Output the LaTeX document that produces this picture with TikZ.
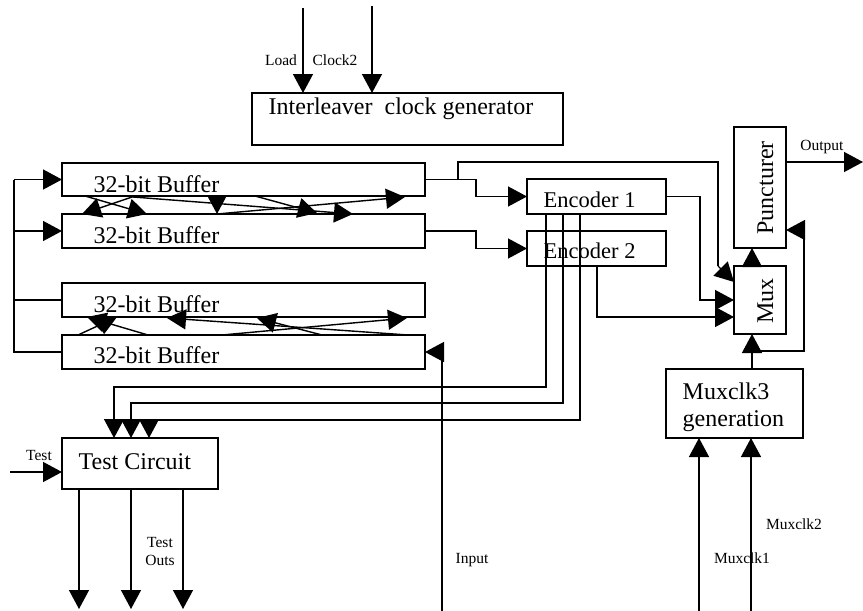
\documentclass[tikz,border=0pt]{standalone}
\usepackage{fontspec}
\setmainfont{Liberation Serif}
\usetikzlibrary{arrows.meta}
\begin{document}
\begin{tikzpicture}[x=1pt,y=-1pt,line width=1.4pt,
  arr/.style={-{Triangle[length=19pt,width=20pt]}},
  blk/.style={draw,inner sep=0pt,outer sep=0pt,anchor=north west},
  big/.style={font=\fontsize{24}{27}\selectfont,inner sep=0pt,anchor=base west},
  mid/.style={font=\fontsize{22.5}{26}\selectfont,inner sep=0pt,anchor=base west},
  lbl/.style={font=\fontsize{15.5}{18}\selectfont,inner sep=0pt,anchor=base}]
\useasboundingbox (0,0) rectangle (863,611);

% blocks
\node[blk,minimum width=311pt,minimum height=52pt] (icg) at (252,93) {};
\node[blk,minimum width=363pt,minimum height=33pt] (b1) at (62,163) {};
\node[blk,minimum width=363pt,minimum height=34pt] (b2) at (62,214) {};
\node[blk,minimum width=363pt,minimum height=34pt] (b3) at (62,283) {};
\node[blk,minimum width=363pt,minimum height=34pt] (b4) at (62,335) {};
\node[blk,minimum width=139pt,minimum height=35pt] (enc1) at (527,179) {};
\node[blk,minimum width=139pt,minimum height=35pt] (enc2) at (527,231) {};
\node[blk,minimum width=52pt,minimum height=121pt] (punc) at (734,127) {};
\node[blk,minimum width=52pt,minimum height=68pt] (mux) at (734,266) {};
\node[blk,minimum width=137pt,minimum height=69pt] (mcg) at (666,369) {};
\node[blk,minimum width=156pt,minimum height=51pt] (tc) at (62,438) {};

% block texts
\node[big] (ticg) at (268,114) {Interleaver~ clock generator};
\node[big] (tb1) at (93,192) {32-bit Buffer};
\node[big] (tb2) at (93,243) {32-bit Buffer};
\node[big] (tb3) at (93,312) {32-bit Buffer};
\node[big] (tb4) at (93,363) {32-bit Buffer};
\node[mid] (te1) at (543,207) {Encoder 1};
\node[mid] (te2) at (543,258) {Encoder 2};
\node[big,rotate=90,anchor=base] (tpunc) at (773,188) {Puncturer};
\node[big,rotate=90,anchor=base] (tmux) at (773,301) {Mux};
\node[big] (tmcg1) at (682,399) {Muxclk3};
\node[big] (tmcg2) at (682,426) {generation};
\node[big] (ttc) at (78,469) {Test Circuit};

% small labels
\node[lbl] (lload) at (281,65) {Load};
\node[lbl] (lclk) at (335,65) {Clock2};
\node[lbl] (lout) at (822,150) {Output};
\node[lbl] (ltest) at (39,460) {Test};
\node[lbl] (ltouts1) at (160,547) {Test};
\node[lbl] (ltouts2) at (160,565) {Outs};
\node[lbl] (lin) at (472,563) {Input};
\node[lbl] (lmc1) at (742,563) {Muxclk1};
\node[lbl] (lmc2) at (794,529) {Muxclk2};

% free ends and bends
\coordinate (ld) at (303,8);
\coordinate (ck) at (372,6);
\coordinate (bus) at (14,0);
\coordinate (tap) at (458,162);
\coordinate (bend) at (718,266);
\coordinate (muxA) at (734,282);
\coordinate (muxC) at (734,317);
\coordinate (e2o) at (597,0);
\coordinate (ti) at (10,472);
\coordinate (to1) at (79,609);
\coordinate (to2) at (131,609);
\coordinate (to3) at (183,609);
\coordinate (inb) at (442,611);
\coordinate (m1) at (699,611);
\coordinate (m2) at (751,611);
\coordinate (clk3) at (752,0);
\coordinate (split) at (752,351);
\coordinate (fb) at (804,230);
\coordinate (outp) at (863,162);

% clock generator inputs
\draw[arr] (ld) -- (ld |- icg.north);
\draw[arr] (ck) -- (ck |- icg.north);

% loop bus on the left
\draw[arr] (b1.west -| bus) -- (b1.west);
\draw[arr] (b2.west -| bus) -- (b2.west);
\draw (b1.west -| bus) -- (b4.west -| bus) -- (b4.west);
\draw (b3.west -| bus) -- (b3.west);

% buffers to encoders
\draw[arr] (b1.east) -- ++(51,0) |- (enc1.west);
\draw (tap |- b1.east) -- (tap) -| (bend);
\draw[arr] (bend) -- (muxA);
\draw[arr] (b2.east) -- ++(51,0) |- (enc2.west);

% encoders to mux
\draw[arr] (enc1.east) -- ++(34,0) |- (mux.west);
\draw[arr] (enc2.south -| e2o) |- (muxC);

% encoder taps to the test circuit
\draw[arr] (enc1.south -| 546,0) -- (546,387) -| (tc.north -| 114,0);
\draw[arr] (enc1.south -| 563,0) -- (563,403) -| (tc.north -| 131,0);
\draw[arr] (enc1.south -| 580,0) -- (580,420) -| (tc.north -| 149,0);

% test circuit
\draw[arr] (ti) -- (tc.west |- ti);
\draw[arr] (tc.south -| to1) -- (to1);
\draw[arr] (tc.south -| to2) -- (to2);
\draw[arr] (tc.south -| to3) -- (to3);

% input
\draw[arr] (inb) |- (b4.east);

% mux clock and output
\draw[arr] (m1) -- (m1 |- mcg.south);
\draw[arr] (m2) -- (m2 |- mcg.south);
\draw[arr] (mcg.north -| clk3) -- (mux.south -| clk3);
\draw[arr] (split) -| (fb) -- (punc.east |- fb);
\draw[arr] (mux.north -| clk3) -- (punc.south -| clk3);
\draw[arr] (punc.east |- outp) -- (outp);

% transfers between buffers 1 and 2
\draw[arr] (85,196) -- (147,214);
\draw[arr] (135,196) -- (82,214);
\draw[arr] (217,196) -- (217,214);
\draw[arr] (255,196) -- (317,213);
\draw[arr] (133,197) -- (353,214);
\draw[arr] (217,214) -- (405,197);

% transfers between buffers 3 and 4
\draw[arr] (148,335) -- (87,317);
\draw[arr] (78,335) -- (117,317);
\draw[arr] (408,335) -- (167,318);
\draw[arr] (322,335) -- (257,318);
\draw[arr] (222,335) -- (407,318);
\end{tikzpicture}
\end{document}
